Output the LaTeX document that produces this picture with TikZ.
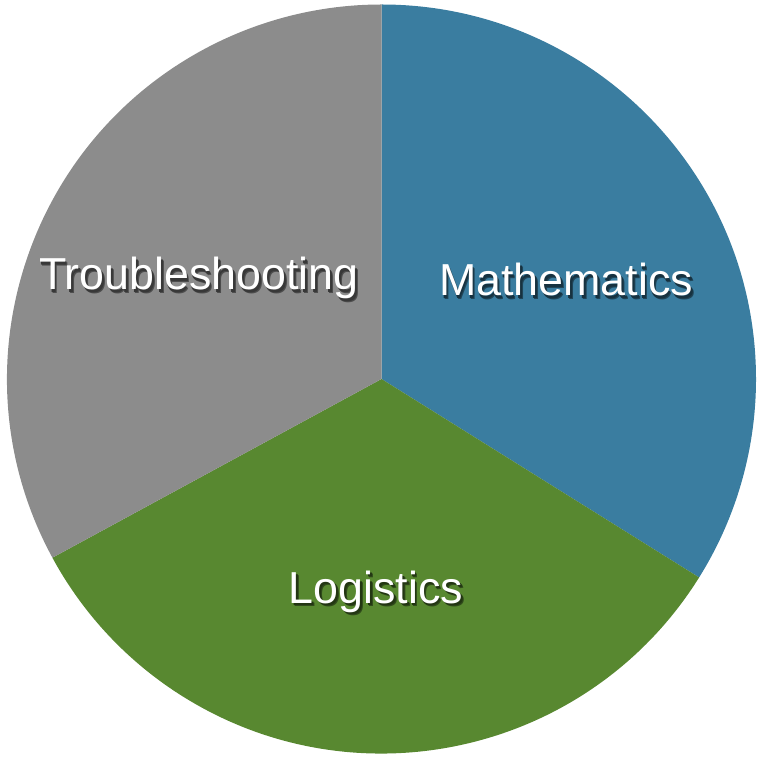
\documentclass[tikz,border=0pt]{standalone}
\usepackage{fontspec}
\setmainfont{Liberation Sans}
\definecolor{mathblue}{RGB}{58,125,160}
\definecolor{logigreen}{RGB}{88,136,48}
\definecolor{troubgray}{RGB}{140,140,140}
\newcommand{\shadowtext}[2]{%
  \makebox[0pt][l]{\hspace{2.5pt}\raisebox{-3.5pt}{\color{#1!55!black}#2}}%
  \makebox[0pt][l]{\hspace{1.5pt}\raisebox{-2.5pt}{\color{#1!40!black}#2}}%
  #2}
\tikzset{
  slice/.style={draw=none},
  lbl/.style={text=white, font=\fontsize{44.8}{50}\selectfont, anchor=base, inner sep=0pt},
}
\begin{document}
\begin{tikzpicture}[x=1pt,y=1pt]
\useasboundingbox (0,0) rectangle (762,760);
\coordinate (c) at (381.5,381);
\def\R{374.5}
\fill[mathblue, slice] (c) -- ++(90:\R) arc[start angle=90, end angle=-32, radius=\R] -- cycle;
\fill[logigreen, slice] (c) -- ++(-32:\R) arc[start angle=-32, end angle=-151.5, radius=\R] -- cycle;
\fill[troubgray, slice] (c) -- ++(208.5:\R) arc[start angle=208.5, end angle=90, radius=\R] -- cycle;
\node[lbl] (trouble) at (199,470) {\shadowtext{troubgray}{Troubleshooting}};
\node[lbl] (math) at (566,464) {\shadowtext{mathblue}{Mathematics}};
\node[lbl] (logi) at (376,157) {\shadowtext{logigreen}{Logistics}};
\end{tikzpicture}
\end{document}
